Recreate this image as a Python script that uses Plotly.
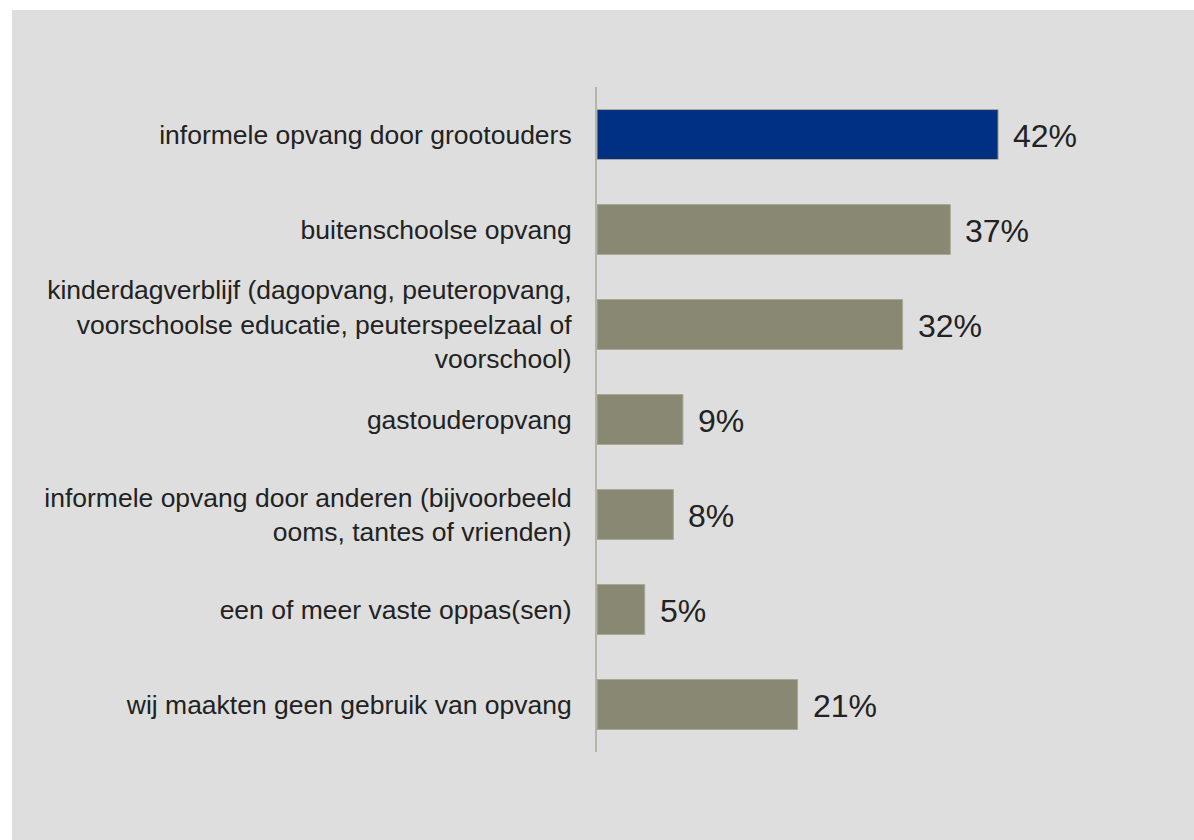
import plotly.graph_objects as go

# Gebruik van kinderopvang (percentage)
categories = [
    'informele opvang door grootouders',
    'buitenschoolse opvang',
    'kinderdagverblijf (dagopvang, peuteropvang,<br>voorschoolse educatie, peuterspeelzaal of<br>voorschool)',
    'gastouderopvang',
    'informele opvang door anderen (bijvoorbeeld<br>ooms, tantes of vrienden)',
    'een of meer vaste oppas(sen)',
    'wij maakten geen gebruik van opvang',
]
values = [42, 37, 32, 9, 8, 5, 21]
highlight = [True, False, False, False, False, False, False]

BLUE = '#003082'
OLIVE = '#898872'
PANEL = '#dedede'
TEXT = '#222222'
FONT = 'Liberation Sans, Arial, sans-serif'

bar_colors = [BLUE if h else OLIVE for h in highlight]

fig = go.Figure(go.Bar(
    x=values,
    y=categories,
    orientation='h',
    marker=dict(color=bar_colors, line=dict(color='#a9a898', width=1)),
    hoverinfo='skip',
))

# value labels right of the bars
for v, c in zip(values, categories):
    fig.add_annotation(
        x=v, y=c, text=f'{v}%',
        xanchor='left', yanchor='middle', xshift=13, yshift=-1,
        showarrow=False,
        font=dict(family=FONT, size=32, color=TEXT),
    )

# grey panel behind the chart, with a thin white border top/left
fig.add_shape(
    type='rect', xref='paper', yref='paper',
    x0=-1.021, x1=1.2, y0=-0.3, y1=1.1158,
    fillcolor=PANEL, line=dict(width=0), layer='below',
)

fig.update_layout(
    width=1194,
    height=840,
    margin=dict(l=597, r=24, t=87, b=88),
    paper_bgcolor='white',
    plot_bgcolor=PANEL,
    bargap=0.474,
    showlegend=False,
    font=dict(family=FONT, size=26.5, color=TEXT),
    xaxis=dict(
        range=[0, 60],
        showticklabels=False,
        showgrid=False,
        zeroline=False,
        showline=False,
        fixedrange=True,
    ),
    yaxis=dict(
        autorange='reversed',
        showline=True,
        linecolor='#b5b4a6',
        linewidth=2,
        showgrid=False,
        ticks='',
        ticklabelstandoff=18,
        tickfont=dict(family=FONT, size=26.5, color=TEXT),
        fixedrange=True,
    ),
)

# drop the default 8px body margin so the figure fills the window exactly
fig.write_html(
    'out.html',
    config={'displayModeBar': False},
    post_script="document.body.style.margin='0px';",
)
